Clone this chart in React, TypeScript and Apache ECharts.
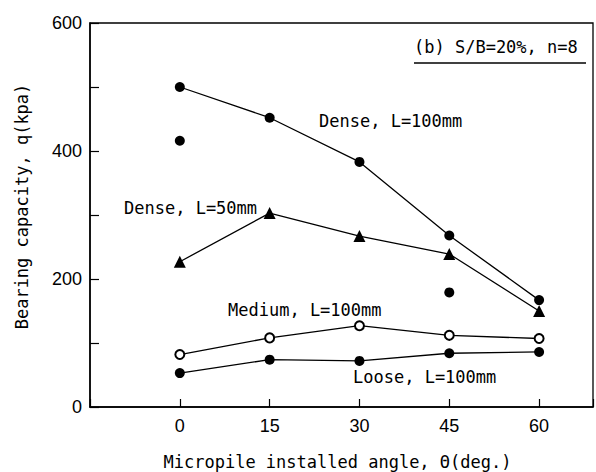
import React, { useEffect, useRef } from "react";
import * as echarts from "echarts";

// Data
const angles = [0, 15, 30, 45, 60];
const denseL100 = [500, 452, 383, 268, 167];
const denseL100ExtraAngles = [0, 45];
const denseL100Extra = [416, 179];
const denseL50 = [227, 303, 267, 239, 150];
const mediumL100 = [82, 108, 127, 112, 107];
const looseL100 = [53, 74, 72, 84, 86];
const yLabelValues = [0, 200, 400, 600];

const MONO = "DejaVu Sans Mono";
const SANS = "Liberation Sans";

const pair = (xs: number[], ys: number[]) => xs.map((x, i) => [x, ys[i]]);

export default function App() {
  const ref = useRef<HTMLDivElement>(null);
  useEffect(() => {
    if (!ref.current) return;
    const chart = echarts.init(ref.current, null, { renderer: "svg" });
    const lineStyle = { color: "#000", width: 1.3 };
    const textStyle = (text: string, x: number, y: number, align = "left") => ({
      type: "text",
      x,
      y,
      style: {
        text,
        fill: "#000",
        font: `17px "${MONO}"`,
        textAlign: align,
        textVerticalAlign: "middle",
      },
    });
    chart.setOption({
      animation: false,
      backgroundColor: "#fff",
      grid: {
        left: 90,
        top: 23,
        width: 505,
        height: 384,
        show: true,
        borderColor: "#000",
        borderWidth: 1.3,
      },
      xAxis: {
        type: "value",
        min: -15,
        max: 69,
        interval: 15,
        axisLine: { onZero: false, lineStyle: { color: "#000", width: 1.5 } },
        axisTick: { inside: true, length: 8, lineStyle: { color: "#000", width: 1.2 } },
        axisLabel: {
          formatter: (v: number) => (angles.includes(v) ? String(v) : ""),
          color: "#000",
          fontFamily: SANS,
          fontSize: 18,
          margin: 10,
        },
        splitLine: { show: false },
      },
      yAxis: {
        type: "value",
        min: 0,
        max: 600,
        interval: 100,
        axisLine: { show: true, onZero: false, lineStyle: { color: "#000", width: 1.5 } },
        axisTick: { show: true, inside: true, length: 9, lineStyle: { color: "#000", width: 1.2 } },
        axisLabel: {
          formatter: (v: number) => (yLabelValues.includes(v) ? String(v) : ""),
          color: "#000",
          fontFamily: SANS,
          fontSize: 18,
          margin: 8,
        },
        splitLine: { show: false },
      },
      series: [
        {
          type: "line",
          data: pair(angles, denseL100),
          symbol: "circle",
          symbolSize: 10,
          lineStyle,
          itemStyle: { color: "#000" },
        },
        {
          type: "scatter",
          data: pair(denseL100ExtraAngles, denseL100Extra),
          symbol: "circle",
          symbolSize: 10,
          itemStyle: { color: "#000", opacity: 1 },
        },
        {
          type: "line",
          data: pair(angles, denseL50),
          symbol: "triangle",
          symbolSize: 12,
          lineStyle,
          itemStyle: { color: "#000" },
        },
        {
          type: "line",
          data: pair(angles, mediumL100),
          symbol: "emptyCircle",
          symbolSize: 9,
          lineStyle,
          itemStyle: { color: "#000", borderColor: "#000", borderWidth: 1.2 },
        },
        {
          type: "line",
          data: pair(angles, looseL100),
          symbol: "circle",
          symbolSize: 10,
          lineStyle,
          itemStyle: { color: "#000" },
        },
      ],
      graphic: [
        textStyle("Micropile installed angle, \u0398(deg.)", 337.5, 461.5, "center"),
        {
          type: "text",
          x: 21.5,
          y: 206.5,
          rotation: Math.PI / 2,
          style: {
            text: "Bearing capacity, q(kpa)",
            fill: "#000",
            font: `17px "${MONO}"`,
            textAlign: "center",
            textVerticalAlign: "middle",
          },
        },
        textStyle("(b) S/B=20%, n=8", 414, 46.5),
        {
          type: "line",
          shape: { x1: 414, y1: 63, x2: 586, y2: 63 },
          style: { stroke: "#000", lineWidth: 1.3 },
        },
        textStyle("Dense, L=100mm", 319, 121),
        textStyle("Dense, L=50mm", 124, 208),
        textStyle("Medium, L=100mm", 228, 310),
        textStyle("Loose, L=100mm", 353, 377),
      ],
    });
    return () => chart.dispose();
  }, []);
  return (
    <div
      ref={ref}
      style={{ position: "absolute", left: 0, top: 0, width: 596, height: 472 }}
    />
  );
}
